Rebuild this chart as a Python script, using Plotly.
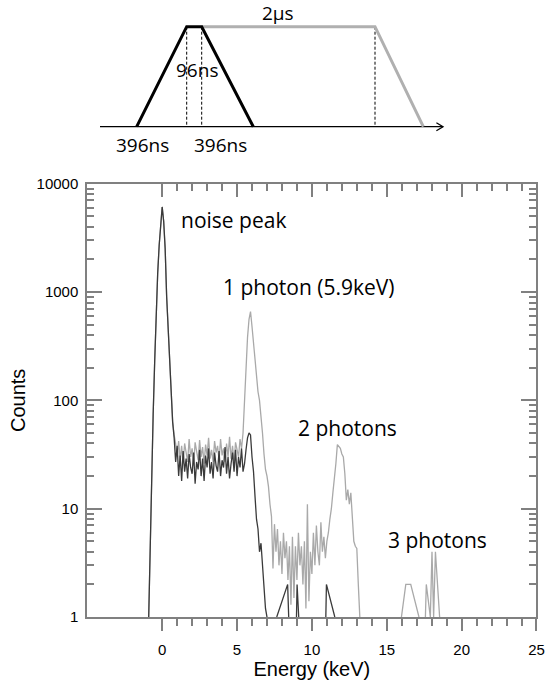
import plotly.graph_objects as go

# ---------------- spectrum data (Energy in keV, Counts) ----------------
# main binned grid, 0.1 keV steps
GRID_DARK_E = [
    -0.9, -0.8, -0.7, -0.6, -0.5, -0.4, -0.3, -0.2, -0.1, 0.0,
    0.1, 0.2, 0.3, 0.4, 0.5, 0.6, 0.7, 0.8, 0.9, 1.0,
    1.1, 1.2, 1.3, 1.4, 1.5, 1.6, 1.7, 1.8, 1.9, 2.0,
    2.1, 2.2, 2.3, 2.4, 2.5, 2.6, 2.7, 2.8, 2.9, 3.0,
    3.1, 3.2, 3.3, 3.4, 3.5, 3.6, 3.7, 3.8, 3.9, 4.0,
    4.1, 4.2, 4.3, 4.4, 4.5, 4.6, 4.7, 4.8, 4.9, 5.0,
    5.1, 5.2, 5.3, 5.4, 5.5, 5.6, 5.7, 5.8, 5.9, 6.0,
    6.1, 6.2, 6.3, 6.4, 6.5, 6.6, 6.7, 6.8, 6.9, 7.0,
]
GRID_DARK_C = [
    1, 4.8, 20, 76, 230, 680, 1480, 2700, 4500, 6100,
    4500, 2500, 900, 450, 215, 112, 63, 45, 27, 38,
    20, 31, 18, 34, 22, 29, 19, 32, 24, 21,
    33, 17, 27, 23, 35, 20, 29, 18, 31, 24,
    36, 21, 27, 19, 33, 25, 22, 34, 20, 28,
    24, 37, 21, 30, 19, 26, 33, 22, 35, 20,
    30, 24, 36, 22, 26, 35, 45, 50, 48, 30,
    22, 13, 8, 6.5, 4, 4.8, 3, 1.8, 1.2, 1,
]
# isolated single-count events of the short shaping (separate segments)
EXTRA_DARK_E = [None, 7.65, 8.38, 8.45, None, 8.97, 9.01, 9.12, None, 10.93, 10.97, 11.53]
EXTRA_DARK_C = [None, 1, 2, 1, None, 1, 2, 1, None, 1, 2, 1]

GRID_LIGHT_E = [
    -0.9, -0.8, -0.7, -0.6, -0.5, -0.4, -0.3, -0.2, -0.1, 0.0,
    0.1, 0.2, 0.3, 0.4, 0.5, 0.6, 0.7, 0.8, 0.9, 1.0,
    1.1, 1.2, 1.3, 1.4, 1.5, 1.6, 1.7, 1.8, 1.9, 2.0,
    2.1, 2.2, 2.3, 2.4, 2.5, 2.6, 2.7, 2.8, 2.9, 3.0,
    3.1, 3.2, 3.3, 3.4, 3.5, 3.6, 3.7, 3.8, 3.9, 4.0,
    4.1, 4.2, 4.3, 4.4, 4.5, 4.6, 4.7, 4.8, 4.9, 5.0,
    5.1, 5.2, 5.3, 5.4, 5.5, 5.6, 5.7, 5.8, 5.9, 6.0,
    6.1, 6.2, 6.3, 6.4, 6.5, 6.6, 6.7, 6.8, 6.9, 7.0,
    7.1, 7.2, 7.3, 7.4, 7.5, 7.6, 7.7, 7.8, 7.9, 8.0,
    8.1, 8.2, 8.3, 8.4, 8.5, 8.6, 8.7, 8.8, 8.9, 9.0,
    9.1, 9.2, 9.3, 9.4, 9.5, 9.6, 9.7, 9.8, 9.9, 10.0,
    10.1, 10.2, 10.3, 10.4, 10.5, 10.6, 10.7, 10.8, 10.9, 11.0,
    11.1, 11.2, 11.3, 11.4, 11.5, 11.6, 11.7, 11.8, 11.9, 12.0,
    12.1, 12.2, 12.3, 12.4, 12.5, 12.6, 12.7, 12.8, 12.9, 13.0,
    13.1, 13.2,
]
GRID_LIGHT_C = [
    1, 4.8, 20, 76, 230, 680, 1480, 2700, 4500, 6100,
    4500, 2500, 900, 450, 215, 112, 63, 48, 40, 30,
    42, 28, 38, 26, 40, 33, 27, 44, 30, 36,
    25, 41, 32, 28, 43, 30, 37, 26, 39, 31,
    45, 29, 35, 27, 42, 33, 38, 28, 44, 31,
    36, 27, 40, 30, 46, 29, 38, 26, 41, 34,
    30, 44, 36, 50, 100, 200, 380, 560, 660, 480,
    330, 220, 160, 120, 100, 75, 50, 32, 23, 20,
    16, 11, 8.5, 2.8, 7.2, 4, 6.5, 3, 5, 2.5,
    6, 3.5, 5, 2.2, 4.5, 1.3, 5.5, 1.5, 4.5, 2.2,
    6, 3, 4.5, 2, 5, 1.2, 11, 1.4, 4, 2.5,
    6, 3, 7, 4, 3, 7.5, 4, 5.5, 3.5, 5,
    6, 8, 10, 14, 18, 26, 39, 37, 36, 32,
    30, 21, 12, 15, 11, 14, 9, 5, 4.5, 4.3,
    2, 1,
]
EXTRA_LIGHT_E = [None, 15.98, 16.27, 16.6, 17.15, None, 17.58, 17.64, 17.91, 18.02, 18.13, 18.25, 18.53]
EXTRA_LIGHT_C = [None, 1, 2, 2, 1, None, 1, 2, 1, 4, 1, 4, 1]

X_TICKS = [0, 5, 10, 15, 20, 25]
X_MINOR = [1, 2, 3, 4, 6, 7, 8, 9, 11, 12, 13, 14, 16, 17, 18, 19, 21, 22, 23, 24]
Y_TICKS = [1, 10, 100, 1000, 10000]
Y_TICK_TEXT = ["1", "10", "100", "1000", "10000"]

PEAK_LABELS = ["noise peak", "1 photon (5.9keV)", "2 photons", "3 photons"]
PEAK_LABEL_E = [1.13, 9.8, 12.4, 18.4]
PEAK_LABEL_LOGC = [3.667, 3.05, 1.746, 0.711]
PEAK_LABEL_ANCHOR = ["left", "center", "center", "center"]

# ---------------- shaping-time schematic (arbitrary units) ----------------
SHORT_T = [136.7, 186.7, 201.7, 253.3]
SHORT_A = [0, 1, 1, 0]
LONG_T = [201.7, 375.0, 423.3]
LONG_A = [1, 1, 0]
MARK_T = [186.7, 201.7, 375.0]
AXIS_T = [100, 443]
SCHEMA_LABELS = ["2\u03bcs", "96ns", "396ns", "396ns"]
SCHEMA_LABEL_T = [278.3, 197.3, 142.5, 220.3]
SCHEMA_LABEL_A = [1.134, 0.567, -0.183, -0.183]

DARK = "#3a3a3a"
LIGHT = "#a9a9a9"
AXC = "#808080"

fig = go.Figure()

fig.add_trace(go.Scatter(x=GRID_LIGHT_E + EXTRA_LIGHT_E, y=GRID_LIGHT_C + EXTRA_LIGHT_C,
                         mode="lines", line=dict(color=LIGHT, width=1.3),
                         connectgaps=False, showlegend=False, xaxis="x", yaxis="y"))
fig.add_trace(go.Scatter(x=GRID_DARK_E + EXTRA_DARK_E, y=GRID_DARK_C + EXTRA_DARK_C,
                         mode="lines", line=dict(color=DARK, width=1.3),
                         connectgaps=False, showlegend=False, xaxis="x", yaxis="y"))
# invisible anchor so that the top tick axis is drawn
fig.add_trace(go.Scatter(x=[0], y=[1], mode="lines", showlegend=False, hoverinfo="skip",
                         line=dict(width=0), xaxis="x2", yaxis="y"))

# schematic
dash_x, dash_y = [], []
for t in MARK_T:
    dash_x += [t, t, None]
    dash_y += [1, 0, None]
fig.add_trace(go.Scatter(x=dash_x, y=dash_y, mode="lines",
                         line=dict(color="black", width=1, dash="3px,2px"),
                         showlegend=False, xaxis="x3", yaxis="y3"))
fig.add_trace(go.Scatter(x=AXIS_T, y=[0, 0], mode="lines", line=dict(color="black", width=1.3),
                         showlegend=False, xaxis="x3", yaxis="y3"))
fig.add_trace(go.Scatter(x=[AXIS_T[1] - 6.6, AXIS_T[1], AXIS_T[1] - 6.6], y=[0.04, 0, -0.04],
                         mode="lines", line=dict(color="black", width=1.3),
                         showlegend=False, xaxis="x3", yaxis="y3"))
fig.add_trace(go.Scatter(x=LONG_T, y=LONG_A, mode="lines", line=dict(color="#b0b0b0", width=3),
                         showlegend=False, xaxis="x3", yaxis="y3"))
fig.add_trace(go.Scatter(x=SHORT_T, y=SHORT_A, mode="lines", line=dict(color="black", width=3),
                         showlegend=False, xaxis="x3", yaxis="y3"))

annotations = []
for txt, xe, yl, anc in zip(PEAK_LABELS, PEAK_LABEL_E, PEAK_LABEL_LOGC, PEAK_LABEL_ANCHOR):
    annotations.append(dict(text=txt, x=xe, y=yl, xref="x", yref="y", showarrow=False,
                            xanchor=anc, yanchor="middle",
                            font=dict(family="Open Sans", size=21, color="black")))
for txt, xt, ya in zip(SCHEMA_LABELS, SCHEMA_LABEL_T, SCHEMA_LABEL_A):
    annotations.append(dict(text=txt, x=xt, y=ya, xref="x3", yref="y3", showarrow=False,
                            xanchor="center", yanchor="middle",
                            font=dict(family="Open Sans", size=19, color="black")))

tickfont = dict(family="Liberation Sans", size=15, color="black")
titlefont = dict(family="Liberation Sans", size=20, color="black")
XD = [0.1602, 0.9844]
YD = [0.0926, 0.7299]

fig.update_layout(
    width=545, height=680,
    margin=dict(l=0, r=0, t=0, b=0),
    paper_bgcolor="white", plot_bgcolor="white",
    showlegend=False,
    annotations=annotations,
    xaxis=dict(domain=XD, range=[-5, 25], anchor="y",
               tickmode="array", tickvals=X_TICKS, ticktext=[str(v) for v in X_TICKS],
               ticks="outside", ticklen=12, tickwidth=2, tickcolor=AXC,
               minor=dict(tickmode="array", tickvals=X_MINOR, ticks="outside", ticklen=7,
                          tickwidth=2, tickcolor=AXC, showgrid=False),
               showline=True, linecolor=AXC, linewidth=2, showgrid=False, zeroline=False,
               tickfont=tickfont, ticklabelstandoff=6, automargin=False,
               title=dict(text="Energy (keV)", font=titlefont, standoff=0)),
    xaxis2=dict(overlaying="x", side="top", anchor="y", range=[-5, 25],
                tickmode="array", tickvals=X_TICKS, ticks="inside", ticklen=13,
                tickwidth=2, tickcolor=AXC,
                minor=dict(tickmode="array", tickvals=X_MINOR, ticks="inside", ticklen=7,
                           tickwidth=2, tickcolor=AXC, showgrid=False),
                showticklabels=False, showline=True, linecolor=AXC, linewidth=2,
                showgrid=False, zeroline=False, automargin=False),
    yaxis=dict(domain=YD, type="log", range=[0, 4], anchor="x",
               tickmode="array", tickvals=Y_TICKS, ticktext=Y_TICK_TEXT,
               ticks="inside", ticklen=15, tickwidth=2, tickcolor=AXC,
               minor=dict(ticks="inside", ticklen=7, dtick="D1", tickwidth=2,
                          tickcolor=AXC, showgrid=False),
               mirror="ticks", showline=True, linecolor=AXC, linewidth=2,
               showgrid=False, zeroline=False, tickfont=tickfont, ticklabelstandoff=4,
               automargin=False,
               title=dict(text="Counts", font=titlefont, standoff=6)),
    xaxis3=dict(domain=[0, 1], range=[0, 545], anchor="y3", visible=False),
    yaxis3=dict(domain=[0.7647, 1], range=[-0.333, 1.267], anchor="x3", visible=False),
)

fig.write_html("out.html")
